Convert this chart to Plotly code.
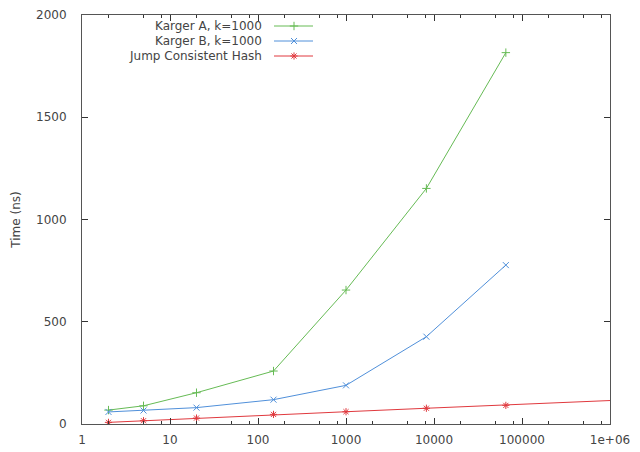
import plotly.graph_objects as go

# ---- data ----
x_vals = [2, 5, 20, 150, 1000, 8192, 65536]
karger_a = [68, 89, 153, 259, 655, 1152, 1816]
karger_b = [59, 66, 80, 119, 189, 427, 777]
jump_x = [2, 5, 20, 150, 1000, 8192, 65536, 4194304]
jump_hash = [8, 16, 29, 47, 60, 77, 91, 126]

series_names = ["Karger A, k=1000", "Karger B, k=1000", "Jump Consistent Hash"]
series_colors = ["#66bb55", "#5090da", "#e0393e"]
series_symbols = ["cross-thin-open", "x-thin-open", "asterisk-open"]

x_tick_vals = [1, 10, 100, 1000, 10000, 100000, 1000000]
x_tick_text = ["1", "10", "100", "1000", "10000", "100000", "1e+06"]
x_minor_vals = [m * 10 ** d for d in range(6) for m in (2, 5, 8)]
y_tick_vals = [0, 500, 1000, 1500, 2000]

FONT = "DejaVu Sans"
TXT = "#444444"
FS = 12

fig = go.Figure()

series = [
    (x_vals, karger_a),
    (x_vals, karger_b),
    (jump_x, jump_hash),
]
for (xs, ys), name, col, sym in zip(series, series_names, series_colors, series_symbols):
    fig.add_trace(go.Scatter(
        x=xs, y=ys, name=name, mode="lines+markers",
        line=dict(color=col, width=1),
        marker=dict(symbol=sym, size=6, color=col, line=dict(color=col, width=1)),
        showlegend=False,
    ))

# ---- gnuplot-style key (text left of sample), on a pixel overlay axis ----
key_rows = [26, 41, 56]
for name, col, sym, yy in zip(series_names, series_colors, series_symbols, key_rows):
    fig.add_trace(go.Scatter(
        x=[274, 294, 313], y=[yy, yy, yy], mode="lines",
        line=dict(color=col, width=1), xaxis="x2", yaxis="y2",
        showlegend=False, hoverinfo="skip",
    ))
    fig.add_trace(go.Scatter(
        x=[294], y=[yy], mode="markers",
        marker=dict(symbol=sym, size=6, color=col, line=dict(color=col, width=1)),
        xaxis="x2", yaxis="y2", showlegend=False, hoverinfo="skip",
    ))
    fig.add_annotation(
        x=264, y=yy, xref="x2", yref="y2", text=name, showarrow=False,
        xanchor="right", yanchor="middle",
        font=dict(family=FONT, size=FS, color=TXT),
    )

axis_common = dict(
    showgrid=False, zeroline=False, showline=True, linecolor="#555555",
    linewidth=1, mirror="allticks", ticks="inside", tickcolor="#333333",
    tickfont=dict(family=FONT, size=FS, color=TXT), automargin=False,
)

fig.update_layout(
    width=640, height=452,
    margin=dict(l=82, r=30, t=15, b=28, autoexpand=False),
    paper_bgcolor="white", plot_bgcolor="white",
    font=dict(family=FONT, size=FS, color=TXT),
    xaxis=dict(
        type="log", range=[0, 6],
        tickmode="array", tickvals=x_tick_vals, ticktext=x_tick_text,
        ticklen=6, ticklabelstandoff=5,
        minor=dict(tickmode="array", tickvals=x_minor_vals, ticks="inside",
                   ticklen=3, tickcolor="#333333"),
        **axis_common,
    ),
    yaxis=dict(
        range=[0, 2000], tickmode="array", tickvals=y_tick_vals,
        ticklen=6, ticklabelstandoff=12,
        title=dict(text="Time (ns)", font=dict(family=FONT, size=FS, color=TXT),
                   standoff=12),
        **axis_common,
    ),
    xaxis2=dict(overlaying="x", range=[82, 610], visible=False, fixedrange=True),
    yaxis2=dict(overlaying="y", range=[424, 15], visible=False, fixedrange=True),
)

fig.write_html("out.html")
